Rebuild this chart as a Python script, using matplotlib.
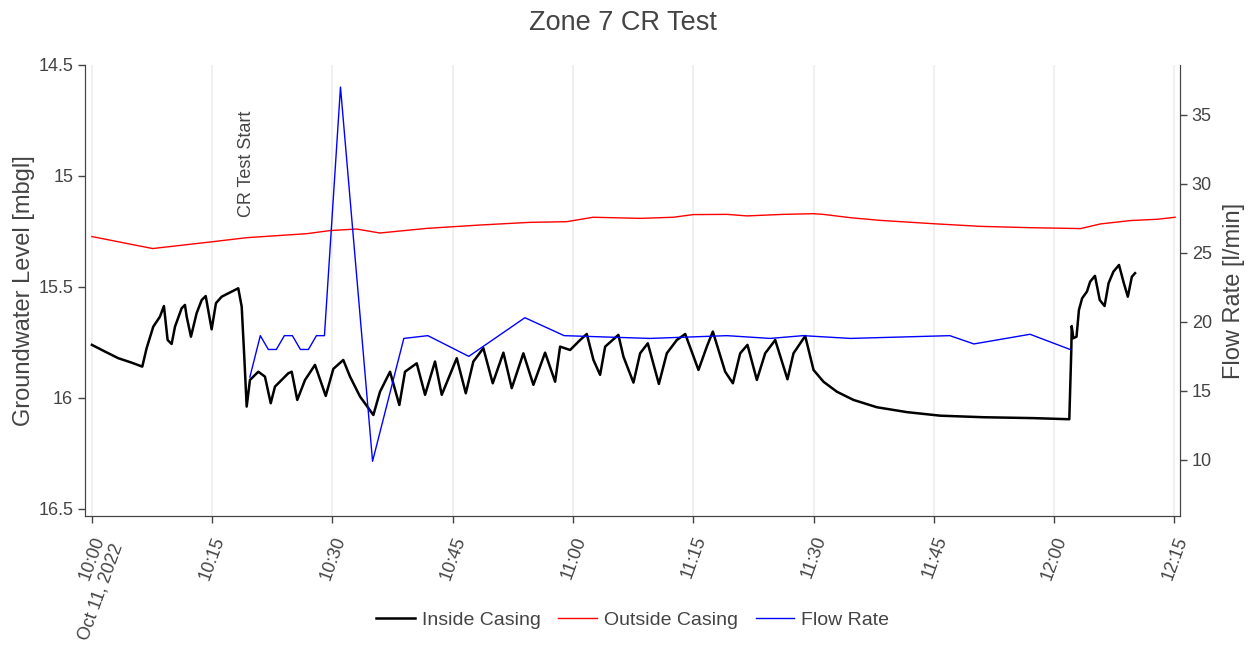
import numpy as np
import pandas as pd
import matplotlib
matplotlib.use("Agg")
import matplotlib.pyplot as plt

plt.rcParams['font.family'] = ['Liberation Sans', 'DejaVu Sans']

START = pd.Timestamp("2022-10-11 10:00")

# inside casing level [mbgl], minutes after 10:00
inside_min = [0.0, 1.62, 3.28, 4.95, 6.28, 6.82, 7.65, 8.48, 8.98, 9.44, 9.94, 10.36,
              11.19, 11.6, 11.82, 12.35, 13.06, 13.69, 14.19, 14.93, 15.47, 16.18,
              17.43, 18.25, 18.68, 19.0, 19.3, 19.71, 20.75, 21.58, 22.3, 22.83,
              24.49, 24.92, 25.61, 26.58, 27.82, 29.16, 30.11, 31.35, 32.19, 33.44,
              35.1, 35.93, 37.18, 38.34, 39.05, 40.51, 41.55, 42.79, 43.63, 45.5,
              46.63, 47.57, 48.82, 49.99, 51.32, 52.36, 53.81, 55.06, 56.52, 57.77,
              58.39, 59.64, 60.89, 61.72, 62.55, 63.38, 64.01, 65.66, 66.29, 67.54,
              68.37, 69.33, 70.71, 71.7, 72.95, 74.0, 75.65, 76.69, 77.44, 78.98,
              79.94, 80.85, 81.76, 82.93, 83.97, 85.22, 86.75, 87.5, 88.96, 90.0,
              91.24, 92.91, 94.98, 97.9, 101.65, 105.8, 111.2, 117.4, 121.9, 122.15,
              122.2, 122.4, 122.8, 123.1, 123.5, 124.1, 124.5, 125.1, 125.7, 126.3,
              126.8, 127.4, 128.1, 128.7, 129.2, 129.7, 130.1]
inside_lvl = [15.761, 15.791, 15.821, 15.841, 15.859, 15.776, 15.679, 15.634, 15.586,
              15.739, 15.757, 15.679, 15.596, 15.581, 15.634, 15.724, 15.618, 15.559,
              15.541, 15.691, 15.573, 15.544, 15.521, 15.506, 15.589, 15.814, 16.039,
              15.919, 15.882, 15.904, 16.024, 15.949, 15.889, 15.882, 16.009, 15.919,
              15.851, 15.991, 15.869, 15.829, 15.904, 15.994, 16.077, 15.972, 15.882,
              16.032, 15.882, 15.844, 15.986, 15.836, 15.986, 15.821, 15.979, 15.836,
              15.776, 15.934, 15.796, 15.956, 15.799, 15.941, 15.796, 15.927, 15.769,
              15.784, 15.739, 15.712, 15.829, 15.896, 15.769, 15.716, 15.814, 15.931,
              15.799, 15.754, 15.937, 15.799, 15.739, 15.712, 15.874, 15.769, 15.701,
              15.882, 15.934, 15.799, 15.761, 15.919, 15.799, 15.739, 15.916, 15.799,
              15.721, 15.874, 15.927, 15.972, 16.009, 16.042, 16.064, 16.08, 16.087,
              16.091, 16.096, 15.784, 15.676, 15.731, 15.724, 15.604, 15.551, 15.521,
              15.476, 15.45, 15.559, 15.586, 15.483, 15.431, 15.401, 15.483, 15.544,
              15.454, 15.438]

# outside casing level [mbgl]
outside_min = [0.0, 7.57, 15.1, 19.3, 26.8, 29.7, 33.0, 35.9, 41.8, 48.4, 54.6, 59.2,
               62.5, 68.4, 72.5, 75.0, 79.2, 81.7, 86.2, 89.96, 91.2, 94.6, 98.3,
               104.9, 110.8, 117.0, 123.3, 125.8, 129.5, 132.9, 135.1]
outside_lvl = [15.273, 15.327, 15.296, 15.278, 15.26, 15.246, 15.239, 15.257, 15.236,
               15.221, 15.209, 15.206, 15.186, 15.191, 15.186, 15.174, 15.173, 15.18,
               15.173, 15.17, 15.173, 15.188, 15.2, 15.215, 15.227, 15.233, 15.237,
               15.216, 15.201, 15.195, 15.186]

# flow rate [l/min]
flow_min = [19.7, 21.0, 22.0, 23.0, 24.0, 25.0, 26.0, 27.0, 28.0, 29.0, 31.0, 35.0,
            38.9, 41.9, 47.0, 54.0, 58.9, 69.6, 79.2, 84.6, 88.7, 94.6, 107.0, 110.0,
            117.0, 122.0]
flow_rate = [16.0, 19.0, 18.0, 18.0, 19.0, 19.0, 18.0, 18.0, 19.0, 19.0, 37.0, 9.9,
             18.8, 19.0, 17.5, 20.3, 19.0, 18.8, 19.0, 18.8, 19.0, 18.8, 19.0, 18.4,
             19.1, 18.0]

left_ticks = [14.5, 15, 15.5, 16, 16.5]
left_labels = ["14.5", "15", "15.5", "16", "16.5"]
right_ticks = [10, 15, 20, 25, 30, 35]
x_labels = ["10:00\nOct 11, 2022", "10:15", "10:30", "10:45", "11:00", "11:15",
            "11:30", "11:45", "12:00", "12:15"]


def to_time(mins):
    return START + pd.to_timedelta(np.asarray(mins), unit="min")


fig = plt.figure(figsize=(12.53, 6.48), dpi=100)
ax = fig.add_axes([0.0678, 0.2037, 0.8739, 0.696])
ax2 = ax.twinx()

grey = "#444444"
ax.plot(to_time(inside_min), inside_lvl, color="black", lw=1.8, label="Inside Casing")
ax.plot(to_time(outside_min), outside_lvl, color="#ff0000", lw=1.0, label="Outside Casing")
ax2.plot(to_time(flow_min), flow_rate, color="#0000ff", lw=1.0, label="Flow Rate")

ax.set_xlim(to_time([-0.87])[0], to_time([135.7])[0])
ax.set_ylim(16.532, 14.5)
ax2.set_ylim(5.94, 38.6)

xt = to_time(np.arange(0, 136, 15))
ax.set_xticks(xt)
ax.set_xticklabels(x_labels, rotation=70, ha="right", va="top",
                   rotation_mode="anchor", fontsize=13, color=grey)
ax.grid(axis="x", color="#eeeeee", lw=1.2)
ax.set_axisbelow(True)

ax.set_yticks(left_ticks)
ax.set_yticklabels(left_labels, fontsize=13, color=grey)
ax2.set_yticks(right_ticks)
ax2.set_yticklabels([str(v) for v in right_ticks], fontsize=13, color=grey)

for a in (ax, ax2):
    a.tick_params(colors=grey, length=5, width=1, labelsize=13)
    a.spines["top"].set_visible(False)
    for s in ("left", "right", "bottom"):
        a.spines[s].set_color(grey)
ax.tick_params(axis="x", pad=8)

ax.set_ylabel("Groundwater Level [mbgl]", fontsize=17, color=grey, labelpad=2)
ax2.set_ylabel("Flow Rate [l/min]", fontsize=17, color=grey, labelpad=8)

ax.text(to_time([19.3])[0], 15.185, "CR Test Start", rotation=90, ha="center",
        va="bottom", fontsize=13, color=grey)

fig.suptitle("Zone 7 CR Test", fontsize=19.5, color=grey, x=0.497, y=0.985)

h1, l1 = ax.get_legend_handles_labels()
h2, l2 = ax2.get_legend_handles_labels()
fig.legend(h1 + h2, l1 + l2, loc="center", bbox_to_anchor=(0.505, 0.043), ncol=3,
           frameon=False, fontsize=14, handlelength=2.0, columnspacing=0.9,
           handletextpad=0.35, labelcolor=grey)

fig.savefig("out.png", dpi=100)
